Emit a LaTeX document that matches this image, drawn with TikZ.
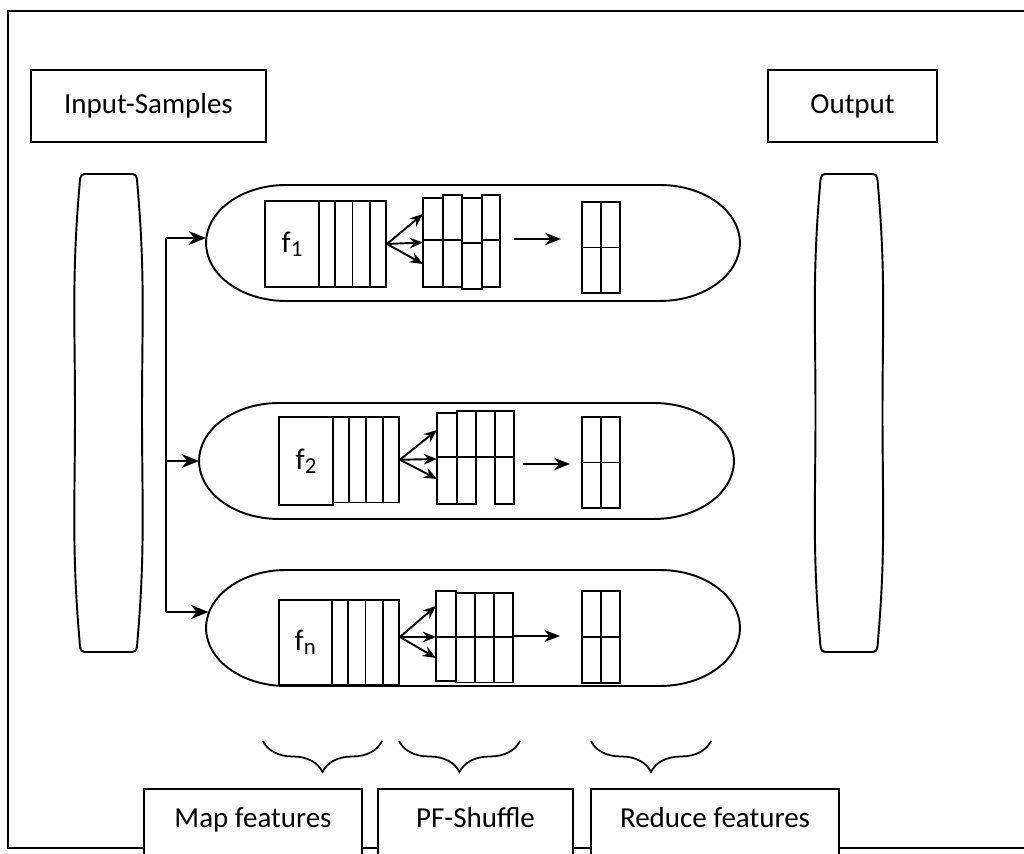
\documentclass[tikz,border=0pt]{standalone}
\usepackage{fontspec}
\setmainfont{Carlito}
\usetikzlibrary{arrows.meta,calc,decorations.pathreplacing}
\newcommand{\fsub}[1]{f\raisebox{-2.5pt}{\fontsize{13}{13}\selectfont #1}}

\begin{document}
\begin{tikzpicture}[x=0.02cm,y=0.02cm,line width=1.1pt]
\tikzstyle{lbl}=[draw,fill=white,font=\fontsize{16.5}{20}\selectfont,inner sep=0pt];
\tikzstyle{stage}=[lbl,anchor=north,text height=0.37cm,text depth=0.6cm,inner ysep=0.41cm];
\tikzstyle{fbox}=[draw,inner sep=0pt,font=\fontsize{17}{20}\selectfont];
\tikzstyle{strip}=[draw,inner sep=0pt];
\tikzstyle{redbox}=[draw,inner sep=0pt,minimum width=0.76cm];
\tikzstyle{pill}=[inner sep=0pt,outer sep=0pt,minimum height=2.32cm];
\tikzstyle{dir}=[-{Stealth[length=10pt,width=8pt]}];
\tikzstyle{fan}=[-{Stealth[length=7.5pt,width=6pt]}];
\tikzstyle{go}=[-{Stealth[length=9pt,width=7pt]}];
\tikzstyle{curly}=[decorate,decoration={brace,amplitude=0.62cm},line width=1pt];
\useasboundingbox (0,0) rectangle (1024,854);
\clip (0,0) rectangle (1024,854);
% frame
\draw (8,6) rectangle (1040,843);
% top labels
\node [lbl,minimum width=4.7cm,minimum height=1.44cm] (inp) at (148.5,748) {Input-Samples};
\node [lbl,minimum width=3.38cm,minimum height=1.44cm] (out) at (852.5,748) {Output};
% side barrels
\foreach \bx in {108.5,849}
  \draw (\bx-24,680) -- (\bx+24,680) to[out=0,in=95] (\bx+29,668) to[out=-85,in=90] (\bx+33.5,441)
    to[out=-90,in=85] (\bx+29,214) to[out=-95,in=0] (\bx+24,202) -- (\bx-24,202)
    to[out=180,in=-85] (\bx-29,214) to[out=95,in=-90] (\bx-33.5,441) to[out=90,in=-95] (\bx-29,668)
    to[out=85,in=180] cycle;
% pills
\node [pill,minimum width=10.68cm] (p1) at (473,611) {};
\node [pill,minimum width=10.7cm] (p2) at (466.5,393) {};
\node [pill,minimum width=10.68cm] (p3) at (473,226) {};
\foreach \p in {p1,p2,p3}
  \draw ([xshift=1.6cm]\p.north west) -- ([xshift=-1.6cm]\p.north east)
    arc[start angle=90,end angle=-90,x radius=1.6cm,y radius=1.16cm]
    -- ([xshift=1.6cm]\p.south west)
    arc[start angle=270,end angle=90,x radius=1.6cm,y radius=1.16cm] -- cycle;
% feeder
\coordinate (t1) at (166,616);
\coordinate (t2) at (166,393);
\coordinate (t3) at (166,242);
\draw (t1) -- (t3);
\draw [dir] (t1) -- (t1 -| p1.west);
\draw [dir] (t2) -- (p2.west);
\draw [dir] (t3) -- ([xshift=0.05cm]t3 -| p3.west);
% first row
\node [fbox,minimum width=1.08cm,minimum height=1.72cm] (f1) at (292,610) {\fsub{1}};
\node [strip,minimum width=1.34cm,minimum height=1.72cm] (m1) at (352.5,610) {};
\foreach \k in {0.25,0.5,0.75}
  \draw ($(m1.north west)!\k!(m1.north east)$) -- ($(m1.south west)!\k!(m1.south east)$);
\foreach \xa/\xb/\yt/\ym/\yb in {423/443/656/614/567,443/462/659/614/567,462/482/656/611/565,482/500/659/614/567}
  {\draw (\xa,\yt) rectangle (\xb,\ym); \draw (\xa,\ym) rectangle (\xb,\yb);}
\coordinate (s1a) at (423,640);
\coordinate (s1b) at (423,611.5);
\coordinate (s1c) at (423,590);
\draw [fan] (m1.east) -- (s1a);
\draw [fan] (m1.east) -- (s1b);
\draw [fan] (m1.east) -- (s1c);
\coordinate (a1) at (514,615);
\coordinate (b1) at (561,615);
\draw [go] (a1) -- (b1);
\node [redbox,minimum height=1.82cm] (r1) at (601,606.5) {};
\draw (r1.north) -- (r1.south);
\draw (r1.west) -- (r1.east);
% second row
\node [fbox,minimum width=1.08cm,minimum height=1.76cm] (f2) at (306,393) {\fsub{2}};
\node [strip,minimum width=1.32cm,minimum height=1.71cm] (m2) at (366,394.25) {};
\foreach \k in {0.25,0.5,0.75}
  \draw ($(m2.north west)!\k!(m2.north east)$) -- ($(m2.south west)!\k!(m2.south east)$);
\draw (437,441) rectangle (457,397);
\draw (437,397) rectangle (457,350);
\draw (457,443) rectangle (476,397);
\draw (457,397) rectangle (476,350);
\draw (476,443) rectangle (495,397);
\draw (495,443) rectangle (514,397);
\draw (495,397) rectangle (514,350);
\coordinate (s2a) at (437,424);
\coordinate (s2b) at (437,395);
\coordinate (s2c) at (437,375);
\draw [fan] (m2.east) -- (s2a);
\draw [fan] (m2.east) -- (s2b);
\draw [fan] (m2.east) -- (s2c);
\coordinate (a2) at (523,390);
\coordinate (b2) at (570,390);
\draw [go] (a2) -- (b2);
\node [redbox,minimum height=1.82cm] (r2) at (601,391.5) {};
\draw (r2.north) -- (r2.south);
\draw (r2.west) -- (r2.east);
% last row
\node [fbox,minimum width=1.07cm,minimum height=1.7cm] (fn) at (305.3,211.5) {\fsub{n}};
\node [strip,minimum width=1.34cm,minimum height=1.7cm] (m3) at (365.5,211.5) {};
\foreach \k in {0.25,0.5,0.75}
  \draw ($(m3.north west)!\k!(m3.north east)$) -- ($(m3.south west)!\k!(m3.south east)$);
\foreach \xa/\xb/\yt/\yb in {436/456/263/173,456/475/261/171.5,475/494/261/171.5,494/513/261/171.5}
  {\draw (\xa,\yt) rectangle (\xb,217); \draw (\xa,217) rectangle (\xb,\yb);}
\coordinate (o3) at ([yshift=0.11cm]m3.east);
\coordinate (s3a) at (436,248);
\coordinate (s3b) at (436,217);
\coordinate (s3c) at (436,196);
\draw [fan] (o3) -- (s3a);
\draw [fan] (o3) -- (s3b);
\draw [fan] (o3) -- (s3c);
\coordinate (a3) at (513,218);
\coordinate (b3) at (560,218);
\draw [go] (a3) -- (b3);
\node [redbox,minimum height=1.84cm] (r3) at (601,217) {};
\draw (r3.north) -- (r3.south);
\draw (r3.west) -- (r3.east);
% braces and stage labels
\draw [curly] (382,113) -- (263,113);
\draw [curly] (520,113) -- (399,113);
\draw [curly] (711,113) -- (591,113);
\node [stage,minimum width=4.36cm] (map) at (253,66) {Map features};
\node [stage,minimum width=3.9cm] (shf) at (475.5,66) {PF-Shuffle};
\node [stage,minimum width=4.96cm] (rdc) at (715,66) {Reduce features};
\end{tikzpicture}
\end{document}
